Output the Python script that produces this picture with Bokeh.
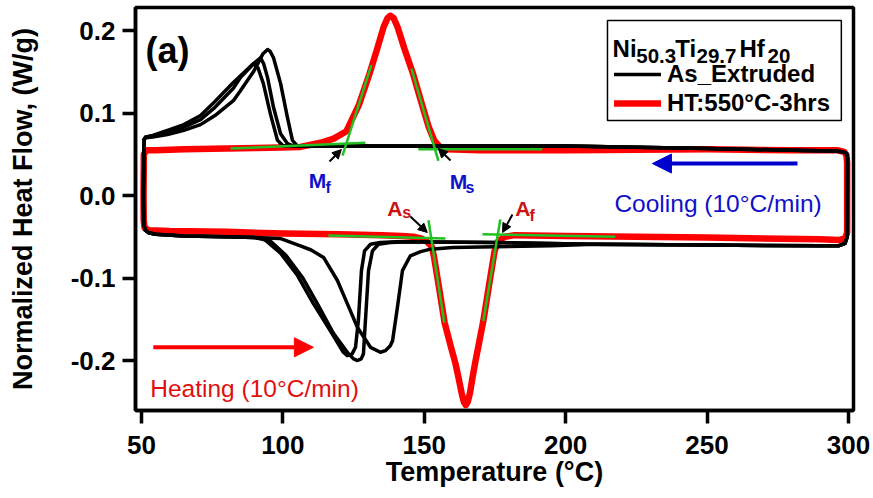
import numpy as np
from bokeh.plotting import figure
from bokeh.models import (Range1d, FixedTicker, PrintfTickFormatter, Label, Arrow,
                          NormalHead, BoxAnnotation, Legend, LegendItem)
from bokeh.embed import file_html
from bokeh.resources import INLINE

FONT = "Liberation Sans"

# ---------------- axis ticks ----------------
X_TICKS = [50, 100, 150, 200, 250, 300]
Y_TICKS = [-0.2, -0.1, 0.0, 0.1, 0.2]

# ---------------- HT:550C-3hrs (red) loop ----------------
RED_HEAT_T = [50.75, 50.8, 51.1, 52.5, 60, 80, 100, 120, 135, 142,
              146, 149, 151, 152.7, 153.5, 155.4, 157.2, 159.4, 161.0, 162.2,
              163.2, 164.0, 164.7, 165.4, 166.2, 167.0, 168.0, 169.3, 170.9, 172.9,
              174.9, 176.2, 178.5, 182, 200, 250, 290, 296.5, 298.8, 299.55]
RED_HEAT_HF = [0.0, -0.030, -0.039, -0.042, -0.043, -0.044, -0.046, -0.047, -0.048, -0.049,
               -0.050, -0.052, -0.056, -0.062, -0.075, -0.115, -0.154, -0.183, -0.203, -0.222,
               -0.239, -0.250, -0.254, -0.250, -0.239, -0.222, -0.203, -0.180, -0.152, -0.109,
               -0.067, -0.055, -0.050, -0.048, -0.049, -0.051, -0.053, -0.054, -0.052, -0.045]
RED_COOL_T = [299.55, 299.3, 298.5, 296, 280, 250, 200, 170, 158, 155.5,
              153.5, 151.6, 148.9, 146.1, 143.0, 140.6, 139.2, 138.0, 137.0, 135.6,
              133.2, 130.6, 126.9, 122.5, 118.0, 113.3, 106.2, 95, 80, 65,
              55, 51.8, 50.85, 50.75]
RED_COOL_HF = [0.040, 0.049, 0.053, 0.055, 0.055, 0.056, 0.055, 0.055, 0.056, 0.059,
               0.067, 0.083, 0.114, 0.147, 0.178, 0.204, 0.215, 0.218, 0.215, 0.204,
               0.176, 0.147, 0.110, 0.078, 0.069, 0.064, 0.059, 0.058, 0.057, 0.056,
               0.055, 0.055, 0.050, 0.0]

# ---------------- As_Extruded (black), shared baselines ----------------
BLK_HEAT_LEFT_T = [50.7, 50.8, 51.3, 52.5, 55, 65, 80, 90]
BLK_HEAT_LEFT_HF = [0.0, -0.034, -0.042, -0.045, -0.047, -0.049, -0.050, -0.051]
BLK_RIGHT_T = [210, 250, 290, 296.5, 298.8, 299.6, 299.7, 299.4, 298, 295]
BLK_RIGHT_HF = [-0.059, -0.060, -0.061, -0.061, -0.058, -0.050, 0.045, 0.051, 0.053, 0.054]
BLK_COOL_RIGHT_T = [280, 250, 200, 150, 120]
BLK_COOL_RIGHT_HF = [0.055, 0.057, 0.060, 0.060, 0.060]

# cycle-specific heating (austenite) dips
BLK1_HEAT_T = [93.1, 99.2, 105.2, 110.8, 116.8, 121.4, 122.8, 124.5, 125.7, 126.7,
               127.8, 128.9, 131.0, 134.5, 140.0, 175]
BLK1_HEAT_HF = [-0.052, -0.070, -0.097, -0.131, -0.164, -0.190, -0.194, -0.192, -0.184, -0.152,
                -0.091, -0.067, -0.059, -0.057, -0.056, -0.057]
BLK2_HEAT_T = [95.6, 101, 106.9, 112.2, 117.9, 123.0, 125.0, 126.4, 127.7, 128.5,
               129.2, 130.3, 131.7, 133.8, 138.0, 145, 175]
BLK2_HEAT_HF = [-0.055, -0.072, -0.099, -0.131, -0.167, -0.191, -0.198, -0.200, -0.198, -0.192,
                -0.152, -0.091, -0.067, -0.059, -0.057, -0.056, -0.057]
BLK3_HEAT_T = [99, 106.2, 110, 114.4, 119.3, 122.8, 126.4, 131.0, 134.5, 136.3,
               138.0, 138.8, 140.5, 142.3, 145.1, 148.7, 152.2, 160, 175, 195]
BLK3_HEAT_HF = [-0.052, -0.061, -0.066, -0.075, -0.103, -0.131, -0.160, -0.184, -0.190, -0.188,
                -0.182, -0.176, -0.136, -0.091, -0.073, -0.068, -0.065, -0.063, -0.062, -0.061]

# cycle-specific cooling (martensite) peaks
BLK1_COOL_T = [102.7, 100.2, 98.1, 95.6, 93.1, 91.2, 89.6, 87.5, 82.5, 76,
               70.9, 65, 59.2, 54, 51.5, 50.9, 50.7]
BLK1_COOL_HF = [0.060, 0.060, 0.067, 0.099, 0.136, 0.155, 0.160, 0.153, 0.137, 0.114,
                0.097, 0.086, 0.079, 0.073, 0.071, 0.068, 0.0]
BLK2_COOL_T = [104, 101.6, 99.2, 96.7, 94.6, 93.2, 92.1, 90, 85, 82.5,
               76, 70.9, 65, 59.2, 54, 51.5, 50.9, 50.7]
BLK2_COOL_HF = [0.060, 0.063, 0.075, 0.107, 0.143, 0.160, 0.167, 0.161, 0.143, 0.130,
                0.107, 0.092, 0.083, 0.076, 0.072, 0.071, 0.068, 0.0]
BLK3_COOL_T = [106, 105.2, 103.4, 101.6, 99.2, 96.7, 95.5, 94.6, 93, 89.6,
               85, 82.5, 76, 70.9, 65, 59.2, 54, 51.5, 50.9, 50.7]
BLK3_COOL_HF = [0.060, 0.060, 0.067, 0.095, 0.136, 0.167, 0.175, 0.177, 0.172, 0.150,
                0.127, 0.115, 0.097, 0.086, 0.079, 0.074, 0.071, 0.070, 0.067, 0.0]

# ---------------- tangent construction lines (Mf, Mf, Ms, Ms, As, As, Af, Af) ----------------
TAN_X0 = [81.5, 121.1, 147.9, 145.5, 116.1, 151.5, 170.6, 176.9]
TAN_Y0 = [0.057, 0.0485, 0.056, 0.154, -0.0485, -0.030, -0.047, -0.029]
TAN_X1 = [129.2, 131.3, 191.8, 155.0, 157.5, 157.1, 217.6, 170.9]
TAN_Y1 = [0.064, 0.158, 0.056, 0.042, -0.052, -0.154, -0.050, -0.152]

# ---------------- transformation temperature labels ----------------
TT_MAIN = ["M", "M", "A", "A"]
TT_SUB = ["f", "s", "s", "f"]
TT_COLOR = ["#1010cc", "#1010cc", "#cc1111", "#cc1111"]
TT_MAIN_X = [109.2, 159.0, 136.9, 182.2]
TT_MAIN_Y = [0.0182, 0.017, -0.0162, -0.0162]
TT_SUB_X = [115.1, 164.6, 142.2, 187.2]
TT_SUB_Y = [0.0097, 0.0097, -0.021, -0.0242]
TT_ARROW_X0 = [116.5, 159.3, 145.1, 181.2]
TT_ARROW_Y0 = [0.0412, 0.0424, -0.0255, -0.023]
TT_ARROW_X1 = [120.7, 155.0, 151.1, 177.7]
TT_ARROW_Y1 = [0.0558, 0.057, -0.0448, -0.0448]

# legend title pieces (Ni50.3Ti29.7Hf20)
TITLE_PARTS = ["Ni", "50.3", "Ti", "29.7", "Hf", "20"]
TITLE_IS_SUB = [False, True, False, True, False, True]
TITLE_X = [216.6, 225.0, 238.8, 246.3, 261.5, 271.4]


def cat(*arrs):
    return np.concatenate([np.asarray(a, dtype=float) for a in arrs])


p = figure(width=873, height=498, output_backend="svg", toolbar_location=None,
           x_range=Range1d(47.9, 301.8), y_range=Range1d(-0.2606, 0.228),
           min_border_left=135, min_border_right=20, min_border_top=7, min_border_bottom=88)
p.xgrid.visible = False
p.ygrid.visible = False
p.background_fill_color = "white"
p.border_fill_color = "white"
p.outline_line_color = "black"
p.outline_line_width = 3.5
p.outline_line_alpha = 1.0

for ax in (p.xaxis[0], p.yaxis[0]):
    ax.axis_line_width = 3.5
    ax.axis_line_color = "black"
    ax.major_tick_line_width = 3.5
    ax.major_tick_line_color = "black"
    ax.major_tick_out = 13
    ax.major_tick_in = 0
    ax.minor_tick_line_color = None
    ax.major_label_text_font = FONT
    ax.major_label_text_font_style = "bold"
    ax.major_label_text_font_size = "26px"
    ax.major_label_text_color = "black"
    ax.axis_label_text_font = FONT
    ax.axis_label_text_font_style = "bold"
    ax.axis_label_text_font_size = "27px"
    ax.axis_label_text_color = "black"

p.xaxis.ticker = FixedTicker(ticks=X_TICKS)
p.yaxis.ticker = FixedTicker(ticks=Y_TICKS)
p.xaxis.formatter = PrintfTickFormatter(format="%d")
p.yaxis.formatter = PrintfTickFormatter(format="%.1f")
p.xaxis.axis_label = "Temperature (°C)"
p.yaxis.axis_label = "Normalized Heat Flow, (W/g)"
p.xaxis.major_label_standoff = 12
p.xaxis.axis_label_standoff = 0
p.yaxis.major_label_standoff = 7
p.yaxis.axis_label_standoff = 30

# red loop
red_r = p.line(cat(RED_HEAT_T, RED_COOL_T), cat(RED_HEAT_HF, RED_COOL_HF),
               line_color="#ff0000", line_width=6.5, line_join="round", line_cap="round")

# black loops
blk_renderers = []
cycles = [(BLK1_HEAT_T, BLK1_HEAT_HF, BLK1_COOL_T, BLK1_COOL_HF),
          (BLK2_HEAT_T, BLK2_HEAT_HF, BLK2_COOL_T, BLK2_COOL_HF),
          (BLK3_HEAT_T, BLK3_HEAT_HF, BLK3_COOL_T, BLK3_COOL_HF)]
for ht, hh, ct, ch in cycles:
    xs = cat(BLK_HEAT_LEFT_T, ht, BLK_RIGHT_T, BLK_COOL_RIGHT_T, ct)
    ys = cat(BLK_HEAT_LEFT_HF, hh, BLK_RIGHT_HF, BLK_COOL_RIGHT_HF, ch)
    r = p.line(xs, ys, line_color="black", line_width=3.5, line_join="round", line_cap="round")
    blk_renderers.append(r)

# tangent construction lines
p.segment(TAN_X0, TAN_Y0, TAN_X1, TAN_Y1, line_color="#22c022", line_width=2.5)

# transformation temperature labels + arrows
for i in range(4):
    p.add_layout(Label(x=TT_MAIN_X[i], y=TT_MAIN_Y[i], text=TT_MAIN[i], text_font=FONT,
                       text_font_style="bold", text_font_size="21px", text_color=TT_COLOR[i],
                       text_align="left", text_baseline="alphabetic"))
    p.add_layout(Label(x=TT_SUB_X[i], y=TT_SUB_Y[i], text=TT_SUB[i], text_font=FONT,
                       text_font_style="bold", text_font_size="16px", text_color=TT_COLOR[i],
                       text_align="left", text_baseline="alphabetic"))
    p.add_layout(Arrow(x_start=TT_ARROW_X0[i], y_start=TT_ARROW_Y0[i],
                       x_end=TT_ARROW_X1[i], y_end=TT_ARROW_Y1[i],
                       line_color="black", line_width=2,
                       end=NormalHead(size=9, fill_color="black", line_color="black")))

# cooling / heating arrows and texts
p.add_layout(Arrow(x_start=282.0, y_start=0.0388, x_end=230.7, y_end=0.0388,
                   line_color="#0000cc", line_width=4,
                   end=NormalHead(size=19, fill_color="#0000cc", line_color="#0000cc")))
p.add_layout(Label(x=253.9, y=-0.0097, text="Cooling (10°C/min)", text_font=FONT,
                   text_font_size="24.5px", text_color="#1010cc", text_align="center",
                   text_baseline="alphabetic"))
p.add_layout(Arrow(x_start=54.2, y_start=-0.184, x_end=110.8, y_end=-0.184,
                   line_color="#ff0000", line_width=4,
                   end=NormalHead(size=19, fill_color="#ff0000", line_color="#ff0000")))
p.add_layout(Label(x=90.0, y=-0.234, text="Heating (10°C/min)", text_font=FONT,
                   text_font_size="24.5px", text_color="#e01010", text_align="center",
                   text_baseline="alphabetic"))

# panel tag
p.add_layout(Label(x=51.4, y=0.1758, text="(a)", text_font=FONT, text_font_style="bold",
                   text_font_size="36px", text_color="black", text_align="left",
                   text_baseline="alphabetic"))

# legend box + title with subscripts
p.add_layout(BoxAnnotation(left=214.8, right=297.5, top=0.2121, bottom=0.0909,
                           fill_color="white", fill_alpha=1.0, line_color="black",
                           line_width=1.5, line_alpha=1.0))
for part, sub, x in zip(TITLE_PARTS, TITLE_IS_SUB, TITLE_X):
    p.add_layout(Label(x=x, y=0.1697 if sub else 0.1782, text=part, text_font=FONT,
                       text_font_style="bold", text_font_size="20.5px" if sub else "24px",
                       text_color="black", text_align="left", text_baseline="alphabetic"))

legend = Legend(items=[LegendItem(label="As_Extruded", renderers=[blk_renderers[0]]),
                       LegendItem(label="HT:550°C-3hrs", renderers=[red_r])],
                location=(479, 293), padding=0, margin=0, spacing=1,
                glyph_width=47, glyph_height=28, label_height=28, label_standoff=6,
                label_text_font=FONT, label_text_font_style="bold",
                label_text_font_size="24px", label_text_color="black",
                border_line_alpha=0, background_fill_alpha=0)
p.add_layout(legend)

open("out.html", "w").write(file_html(p, INLINE))
